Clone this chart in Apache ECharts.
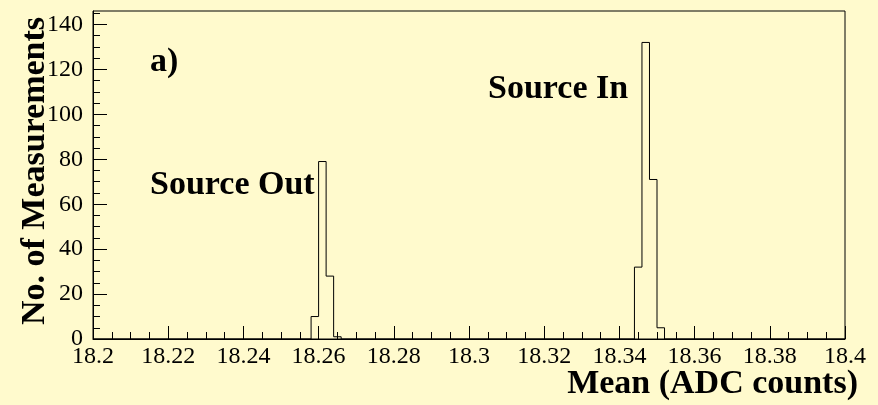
<!DOCTYPE html>
<html>
<head>
<meta charset="utf-8">
<script src="https://cdn.jsdelivr.net/npm/echarts@6/dist/echarts.min.js"></script>
<style>
html,body{margin:0;padding:0;background:#fffacd;}
#chart{width:878px;height:405px;}
</style>
</head>
<body>
<div id="chart"></div>
<script>
// ---- data ----
const binLow = [18.258, 18.260, 18.262, 18.264, 18.344, 18.346, 18.348, 18.350];
const counts = [10, 79, 28, 1, 32, 132, 71, 5];
const binWidth = 0.002;
const xRange = [18.2, 18.4];
const yRange = [0, 146];
const yMajorTicks = [0, 20, 40, 60, 80, 100, 120, 140];
const yMinorTicks = [5, 10, 15, 25, 30, 35, 45, 50, 55, 65, 70, 75, 85, 90, 95, 105, 110, 115, 125, 130, 135, 145];
const annotations = ['a)', 'Source Out', 'Source In'];
const xTitle = 'Mean (ADC counts)';
const yTitle = 'No. of Measurements';

// build step outline of histogram
const stepData = [[xRange[0], 0]];
let prevEnd = null;
for (let i = 0; i < binLow.length; i++) {
  const lo = binLow[i];
  if (prevEnd !== null && Math.abs(prevEnd - lo) > 1e-9) stepData.push([prevEnd, 0]);
  stepData.push([lo, counts[i]]);
  prevEnd = +(lo + binWidth).toFixed(6);
}
stepData.push([prevEnd, 0]);
stepData.push([xRange[1], 0]);

const serif = '"Liberation Serif","Times New Roman",serif';
const chart = echarts.init(document.getElementById('chart'), null, {renderer: 'canvas'});
chart.setOption({
  backgroundColor: '#fffacd',
  animation: false,
  grid: {left: 93, right: 33, top: 11, bottom: 66, show: true, borderColor: '#000', borderWidth: 1, backgroundColor: 'transparent'},
  xAxis: {
    type: 'value', min: xRange[0], max: xRange[1], interval: 0.02,
    axisLine: {show: true, lineStyle: {color: '#000', width: 1}},
    axisTick: {show: true, inside: true, length: 13, lineStyle: {color: '#000'}},
    minorTick: {show: true, splitNumber: 4, length: 7, lineStyle: {color: '#000'}},
    splitLine: {show: false}, minorSplitLine: {show: false},
    axisLabel: {fontFamily: serif, fontSize: 24, color: '#000', margin: 6,
      formatter: v => String(+(+v).toFixed(3))}
  },
  yAxis: [{
    type: 'value', min: yRange[0], max: yRange[1],
    axisLine: {show: true, lineStyle: {color: '#000', width: 1}},
    axisTick: {show: true, inside: true, length: 14, customValues: yMajorTicks, lineStyle: {color: '#000'}},
    splitLine: {show: false},
    axisLabel: {fontFamily: serif, fontSize: 24, color: '#000', margin: 10, customValues: yMajorTicks}
  }, {
    type: 'value', min: yRange[0], max: yRange[1], position: 'left',
    axisLine: {show: false},
    axisTick: {show: true, inside: true, length: 7, customValues: yMinorTicks, lineStyle: {color: '#000'}},
    splitLine: {show: false},
    axisLabel: {show: false}
  }],
  series: [{
    type: 'line', step: 'end', data: stepData, symbol: 'none',
    xAxisIndex: 0, yAxisIndex: 0,
    lineStyle: {color: '#000', width: 1}, clip: false
  }],
  graphic: [
    {type: 'text', left: 150, top: 45, style: {text: annotations[0], font: 'bold 34px ' + serif, fill: '#000'}},
    {type: 'text', x: 150, y: 185, style: {text: annotations[1], font: 'bold 34px ' + serif, fill: '#000', verticalAlign: 'middle'}},
    {type: 'text', x: 488, y: 89, style: {text: annotations[2], font: 'bold 34px ' + serif, fill: '#000', verticalAlign: 'middle'}},
    {type: 'text', x: 858, y: 384, style: {text: xTitle, font: 'bold 34px ' + serif, fill: '#000', align: 'right', verticalAlign: 'middle'}},
    {type: 'text', x: 35, y: 171, rotation: Math.PI / 2, style: {text: yTitle, font: 'bold 34px ' + serif, fill: '#000', align: 'center', verticalAlign: 'middle'}}
  ]
});
</script>
</body>
</html>
